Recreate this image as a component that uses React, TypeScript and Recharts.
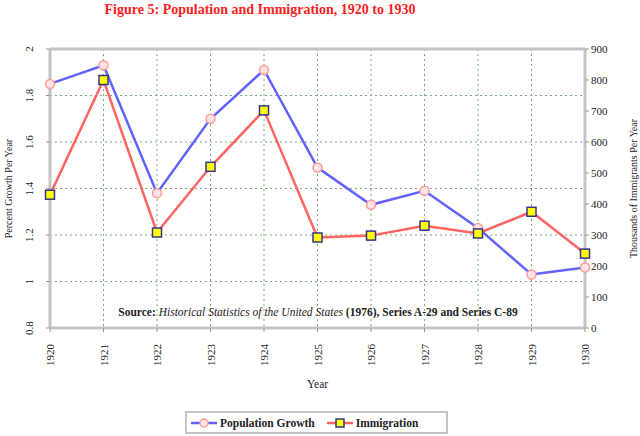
import React from 'react';
import { LineChart, Line, XAxis, YAxis, CartesianGrid, Legend, ReferenceLine } from 'recharts';

// values
const years = ['1920', '1921', '1922', '1923', '1924', '1925', '1926', '1927', '1928', '1929', '1930'];
const popGrowth = [1.85, 1.93, 1.38, 1.7, 1.91, 1.49, 1.33, 1.39, 1.23, 1.03, 1.06];
const immigration = [430, 800, 308, 520, 702, 292, 298, 330, 305, 375, 240];
const leftTicks = [0.8, 1, 1.2, 1.4, 1.6, 1.8, 2];
const rightTicks = [0, 100, 200, 300, 400, 500, 600, 700, 800, 900];

const data = years.map((year, i) => ({ year, growth: popGrowth[i], immigration: immigration[i] }));

const FONT = '"Liberation Serif", "Times New Roman", serif';
const AXIS = '#c4c4c4';
const BLUE = '#6262ff';
const RED = '#ff6464';

const GrowthDot = (props: any) => {
  const { cx, cy } = props;
  if (cx == null || cy == null) return null;
  return <circle key={`g${cx}`} cx={cx} cy={cy} r={4.5} fill="#ffe4e4" stroke="#ff9a9a" strokeWidth={1.5} />;
};

const ImmDot = (props: any) => {
  const { cx, cy } = props;
  if (cx == null || cy == null) return null;
  return (
    <rect key={`i${cx}`} x={cx - 4.5} y={cy - 4.5} width={9} height={9} fill="#ffff00" stroke="#34348a" strokeWidth={1.5} />
  );
};

const LeftTick = (props: any) => {
  const { x, y, payload } = props;
  const tx = x - 11;
  return (
    <text x={tx} y={y} transform={`rotate(-90 ${tx} ${y})`} textAnchor="middle" fontSize={11} fontFamily={FONT} fill="#222">
      {Number(payload.value.toFixed(1)).toString()}
    </text>
  );
};

const YearTick = (props: any) => {
  const { x, y, payload } = props;
  const ty = y + 10;
  return (
    <text x={x + 4} y={ty} transform={`rotate(-90 ${x + 4} ${ty})`} textAnchor="end" fontSize={11} fontFamily={FONT} fill="#222">
      {payload.value}
    </text>
  );
};

const LegendBox = () => (
  <div
    style={{
      border: '2px solid #c4c4c4',
      height: 23,
      display: 'flex',
      alignItems: 'center',
      fontFamily: FONT,
      fontSize: 11.5,
      fontWeight: 'bold',
      color: '#222',
      padding: '0 4px',
      boxSizing: 'border-box',
    }}
  >
    <svg width={26} height={12}>
      <line x1={0} y1={6} x2={26} y2={6} stroke={BLUE} strokeWidth={2.5} />
      <circle cx={13} cy={6} r={4} fill="#ffe4e4" stroke="#ff9a9a" strokeWidth={1.5} />
    </svg>
    <span style={{ marginLeft: 3, marginRight: 12 }}>Population Growth</span>
    <svg width={26} height={12}>
      <line x1={0} y1={6} x2={26} y2={6} stroke={RED} strokeWidth={2.5} />
      <rect x={9} y={2} width={8} height={8} fill="#ffff00" stroke="#34348a" strokeWidth={1.5} />
    </svg>
    <span style={{ marginLeft: 3 }}>Immigration</span>
  </div>
);

export default function App() {
  return (
    <div style={{ position: 'absolute', left: 0, top: 0, width: 640, height: 436, background: '#fff' }}>
      <LineChart width={640} height={436} data={data} margin={{ top: 49, right: 15, bottom: 48, left: 20 }}>
        <text x={260} y={14} textAnchor="middle" fontSize={14} fontWeight="bold" fontFamily={FONT} fill="#ff2020">
          Figure 5: Population and Immigration, 1920 to 1930
        </text>
        <CartesianGrid yAxisId="left" stroke="#7aa87a" strokeDasharray="2 3" strokeWidth={1} />
        <XAxis
          dataKey="year"
          interval={0}
          height={60}
          tick={<YearTick />}
          axisLine={{ stroke: AXIS, strokeWidth: 3 }}
          tickLine={{ stroke: '#999' }}
          tickSize={4}
          label={{ value: 'Year', position: 'insideBottom', offset: 0, fontSize: 11.5, fontFamily: FONT, fill: '#222' }}
        />
        <YAxis
          yAxisId="left"
          domain={[0.8, 2]}
          ticks={leftTicks}
          width={30}
          tick={<LeftTick />}
          axisLine={{ stroke: AXIS, strokeWidth: 3 }}
          tickLine={{ stroke: '#999' }}
          tickSize={4}
          label={{ value: 'Percent Growth Per Year', angle: -90, position: 'insideLeft', offset: -12, fontSize: 10, fontFamily: FONT, fill: '#222', style: { textAnchor: 'middle' } }}
        />
        <YAxis
          yAxisId="right"
          orientation="right"
          domain={[0, 900]}
          ticks={rightTicks}
          width={40}
          tick={{ fontSize: 11, fontFamily: FONT, fill: '#222', textAnchor: 'start' }}
          axisLine={{ stroke: AXIS, strokeWidth: 3 }}
          tickLine={{ stroke: '#999' }}
          tickSize={4}
          label={{ value: 'Thousands of Immigrants Per Year', angle: -90, position: 'insideRight', offset: -8, fontSize: 10, fontFamily: FONT, fill: '#222', style: { textAnchor: 'middle' } }}
        />
        <ReferenceLine yAxisId="left" y={2} stroke={AXIS} strokeWidth={3} />
        <text x={318} y={316} textAnchor="middle" fontSize={11.5} fontFamily={FONT} fill="#222">
          <tspan fontWeight="bold">Source: </tspan>
          <tspan fontStyle="italic">Historical Statistics of the United States</tspan>
          <tspan fontWeight="bold"> (1976), Series A-29 and Series C-89</tspan>
        </text>
        <Line
          yAxisId="left"
          dataKey="growth"
          name="Population Growth"
          stroke={BLUE}
          strokeWidth={2.5}
          dot={<GrowthDot />}
          isAnimationActive={false}
        />
        <Line
          yAxisId="right"
          dataKey="immigration"
          name="Immigration"
          stroke={RED}
          strokeWidth={2.5}
          dot={<ImmDot />}
          isAnimationActive={false}
        />
        <Legend
          verticalAlign="middle"
          align="center"
          content={<LegendBox />}
          wrapperStyle={{ position: 'absolute', top: 411, left: 185, width: 263, height: 23 }}
        />
      </LineChart>
    </div>
  );
}
